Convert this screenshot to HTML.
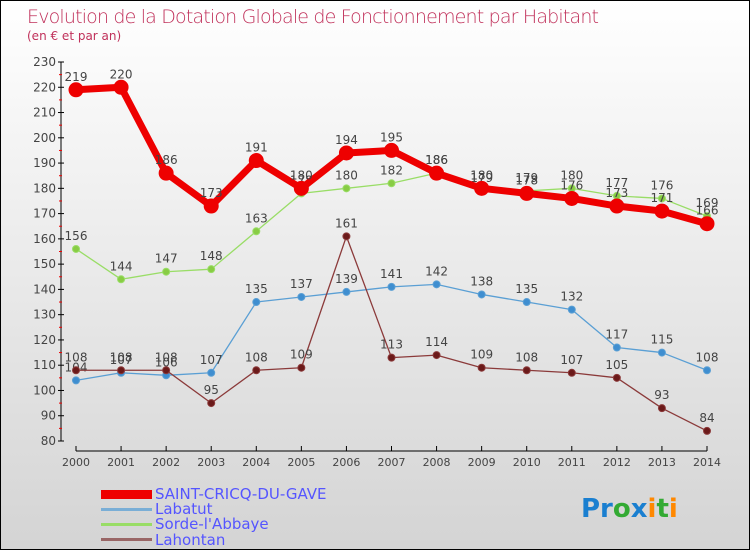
<!DOCTYPE html>
<html><head><meta charset="utf-8"><style>
body{margin:0}
#c{width:748px;height:548px;border:1px solid #000;background:linear-gradient(#fff,#d4d4d4);position:relative;font-family:"DejaVu Sans","Liberation Sans",sans-serif;overflow:hidden}
text{font-family:"DejaVu Sans","Liberation Sans",sans-serif}
</style></head><body>
<div id="c">
<svg id="s" width="748" height="548">
<text x="26" y="22" font-size="19" fill="#c0305a" font-weight="200" textLength="572">Evolution de la Dotation Globale de Fonctionnement par Habitant</text>
<text x="26" y="39" font-size="12" fill="#c0305a">(en € et par an)</text>
<g id="axes"></g><g id="series"></g>
<g>
<rect x="100" y="489" width="51" height="9" fill="#e00"/>
<text x="154" y="498" font-size="15" fill="#55f">SAINT-CRICQ-DU-GAVE</text>
<rect x="100" y="507" width="51" height="3" fill="#7aaed6"/>
<text x="154" y="513" font-size="15" fill="#55f">Labatut</text>
<rect x="100" y="522" width="51" height="3" fill="#9d6"/>
<text x="154" y="528" font-size="15" fill="#55f">Sorde-l'Abbaye</text>
<rect x="100" y="537" width="51" height="3" fill="#966"/>
<text x="154" y="544" font-size="15" fill="#55f">Lahontan</text>
</g>
<text x="580" y="516" font-size="26" font-weight="bold"><tspan fill="#1a7fd0">Pr</tspan><tspan fill="#3a3">o</tspan><tspan fill="#1a7fd0">x</tspan><tspan fill="#f80">i</tspan><tspan fill="#3a3">t</tspan><tspan fill="#f80">i</tspan></text>
</svg></div>
<script>
const years=[2000,2001,2002,2003,2004,2005,2006,2007,2008,2009,2010,2011,2012,2013,2014];
const yTicks=[80,90,100,110,120,130,140,150,160,170,180,190,200,210,220,230];
const saintCricq=[219,220,186,173,191,180,194,195,186,180,178,176,173,171,166];
const labatut=[104,107,106,107,135,137,139,141,142,138,135,132,117,115,108];
const sorde=[156,144,147,148,163,178,180,182,186,179,179,180,177,176,169];
const lahontan=[108,108,108,95,108,109,161,113,114,109,108,107,105,93,84];
const NS='http://www.w3.org/2000/svg';
const x=i=>75+i*(631/14);
const y=v=>440-(v-80)*(379/150);
function mk(t,a,p){const e=document.createElementNS(NS,t);for(const k in a)e.setAttribute(k,a[k]);p.appendChild(e);return e;}
const ax=document.getElementById('axes');
let e=mk('line',{x1:60,y1:y(230),x2:60,y2:y(80),stroke:'#000'},ax);


e=mk('line',{x1:75,y1:450,x2:706,y2:450,stroke:'#000'},ax);


yTicks.forEach((v,i)=>{mk('line',{x1:57,y1:y(v),x2:63,y2:y(v),stroke:'#000'},ax);
if(i<yTicks.length-1)mk('line',{x1:58,y1:y(v+5),x2:61,y2:y(v+5),stroke:'#e00'},ax);
const t=mk('text',{x:55,y:y(v)+4,'font-size':12,fill:'#444','text-anchor':'end'},ax);t.textContent=v;

});
years.forEach((yr,i)=>{mk('line',{x1:x(i),y1:445,x2:x(i),y2:450,stroke:'#000'},ax);
const t=mk('text',{x:x(i),y:465,'font-size':11,fill:'#444','text-anchor':'middle'},ax);t.textContent=yr;

});
const sg=document.getElementById('series');
function draw(d,col,w,r,dot,name){const g=mk('g',{},sg);


mk('polyline',{points:d.map((v,i)=>x(i)+','+y(v)).join(' '),fill:'none',stroke:col,'stroke-width':w,'stroke-linejoin':'round'},g);
d.forEach((v,i)=>{const c=mk('circle',{cx:x(i),cy:y(v),r:r,fill:dot,stroke:col,'stroke-width':1},g);


const t=mk('text',{x:x(i),y:y(v)-9,'font-size':12,fill:'#444','text-anchor':'middle'},g);t.textContent=v;

});}
draw(labatut,'#5a9fd4',1.3,3.5,'#3f8ed0','labatut');
draw(sorde,'#9d6',1.3,3.5,'#8c4','sorde');
draw(lahontan,'#8b3a3a',1.3,3.5,'#6b1a1a','lahontan');
draw(saintCricq,'#e00',7,7,'#e00','saint-cricq');
</script>
</body></html>
